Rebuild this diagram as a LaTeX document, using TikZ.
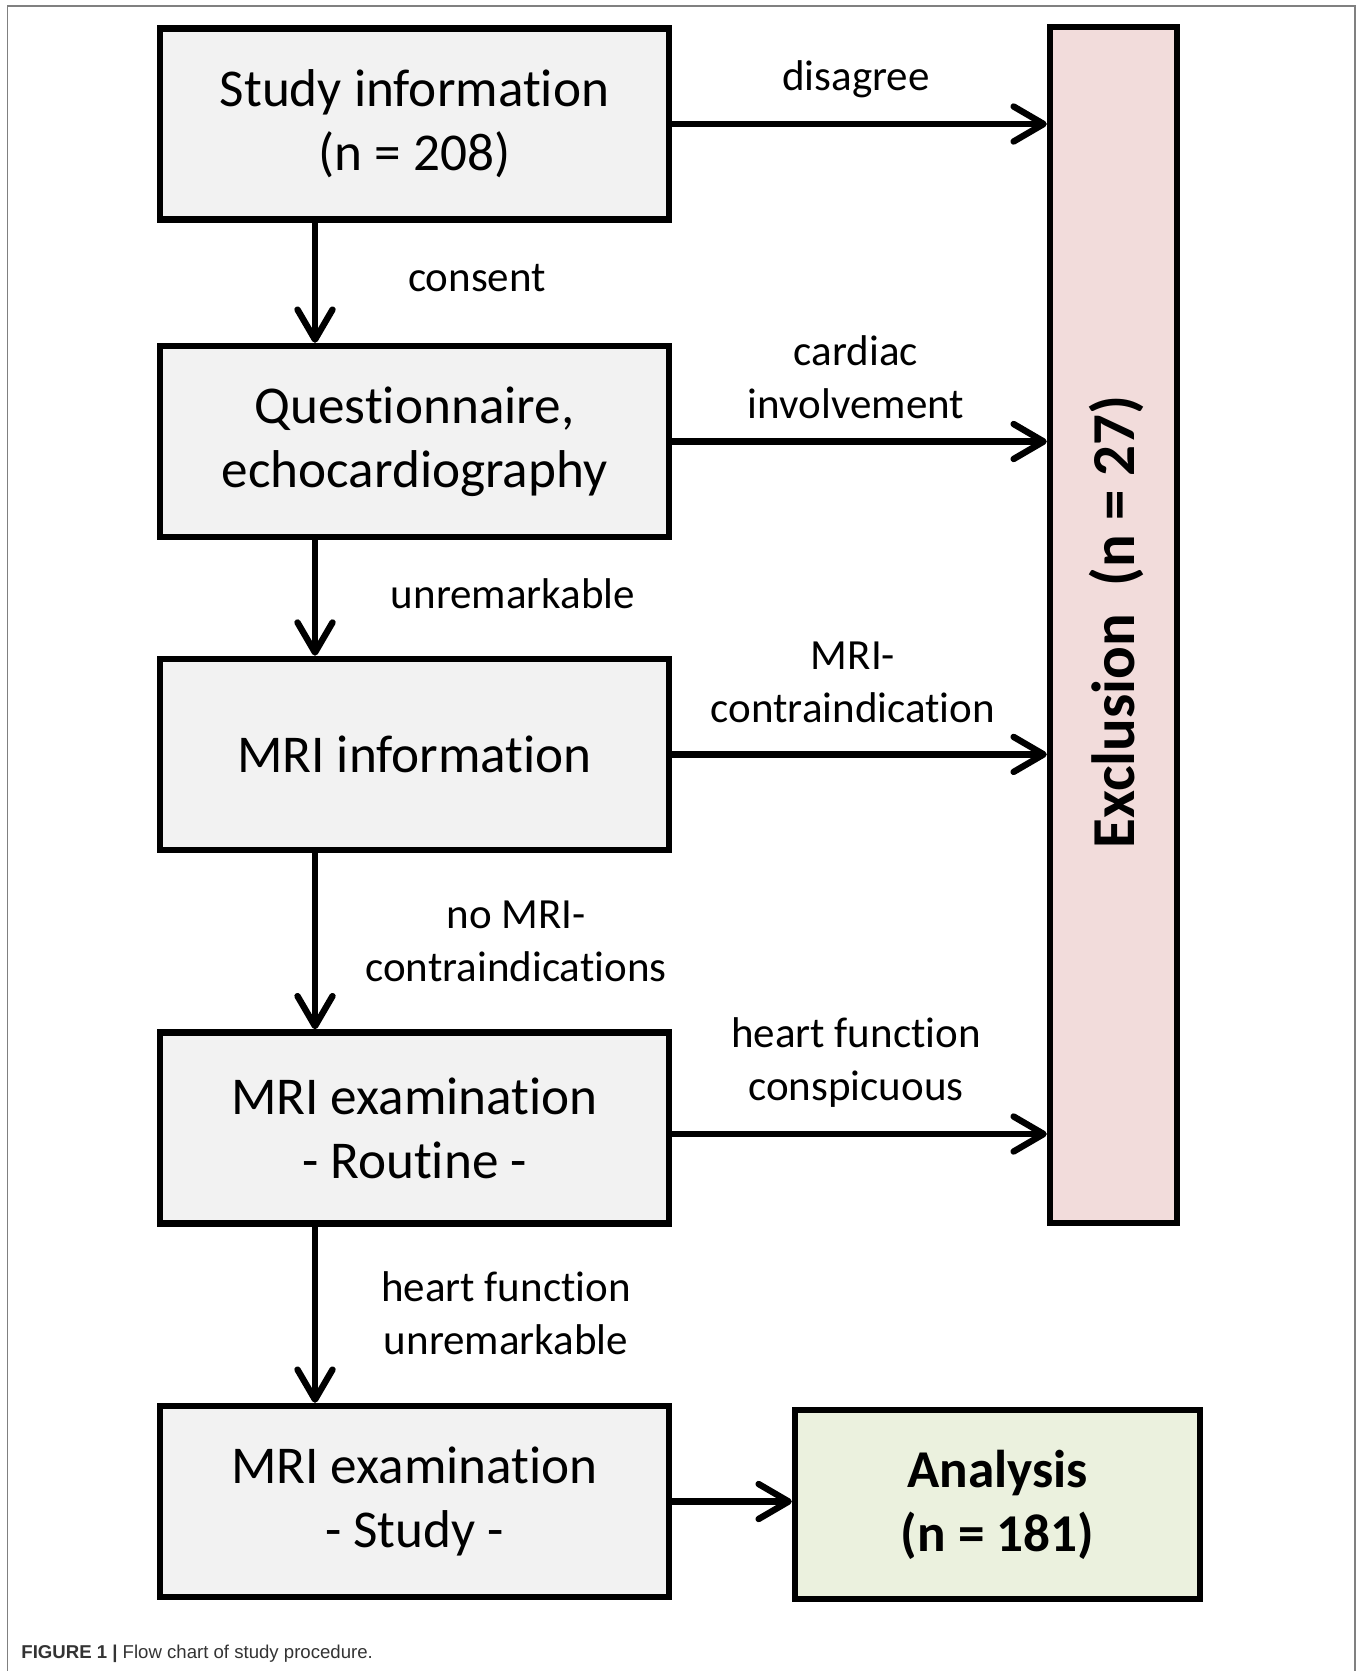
\documentclass[tikz,border=0pt]{standalone}
\usepackage{fontspec}
\setmainfont[RawFeature={-liga;-clig;-calt;-dlig}]{Carlito}
\newfontfamily\capfont{Liberation Sans}
\usepackage{tikz}
\usetikzlibrary{calc,arrows.meta}

\definecolor{boxgray}{HTML}{F2F2F2}
\definecolor{exclred}{HTML}{F2DCDB}
\definecolor{resgreen}{HTML}{EBF1DE}
\definecolor{framegray}{HTML}{808080}
\definecolor{capgray}{HTML}{333333}

\tikzset{
  box/.style={draw, line width=3.2pt, fill=boxgray, inner sep=0pt,
    minimum width=254.5pt, minimum height=95.5pt, align=center,
    font=\fontsize{26.6}{32}\selectfont},
  exclbox/.style={box, fill=exclred, minimum width=63.5pt, minimum height=598pt},
  resultbox/.style={box, fill=resgreen, minimum width=202.5pt, minimum height=94.5pt,
    font=\fontsize{26.6}{32}\selectfont\bfseries},
  lbl/.style={align=center, inner sep=0pt, font=\fontsize{21.5}{26.5}\selectfont},
  flow/.style={line width=3.2pt, -{Straight Barb[length=15pt,width=17.5pt,round]}}
}

\begin{document}
\begin{tikzpicture}[x=0.5pt,y=-0.5pt]
  \useasboundingbox (0,0) rectangle (1362,1671);
  % frame
  \draw[framegray, line width=0.8pt] (7.5,1671) -- (7.5,6) -- (1355,6) -- (1355,1671);

  % boxes
  \node[box] (study) at (414.5,124) {Study information\\(n = 208)};
  \node[box] (quest) at (414.5,441.5) {Questionnaire,\\echocardiography};
  \node[box] (mriinfo) at (414.5,754.4) {MRI information};
  \node[box] (routine) at (414.5,1128) {MRI examination\\- Routine -};
  \node[box] (mristudy) at (414.5,1501.5) {MRI examination\\- Study -};
  \node[exclbox] (excl) at (1113.5,625) {};
  \node[rotate=90, font=\fontsize{30.5}{36}\selectfont\bfseries] (excltext) at (1116,622) {Exclusion\ \ (n = 27)};
  \node[resultbox] (analysis) at (997.5,1504.5) {Analysis\\(n = 181)};
  \coordinate (vaxis) at (315,0);

  % arrows down
  \draw[flow] (study.south -| vaxis) -- (quest.north -| vaxis);
  \draw[flow] (quest.south -| vaxis) -- (mriinfo.north -| vaxis);
  \draw[flow] (mriinfo.south -| vaxis) -- (routine.north -| vaxis);
  \draw[flow] (routine.south -| vaxis) -- (mristudy.north -| vaxis);

  % arrows right
  \draw[flow] (study.east) -- (study.east -| excl.west);
  \draw[flow] (quest.east) -- (quest.east -| excl.west);
  \draw[flow] (mriinfo.east) -- (mriinfo.east -| excl.west);
  \draw[flow] ($(routine.east)+(0,6)$) -- ($(routine.east -| excl.west)+(0,6)$);
  \draw[flow] (mristudy.east) -- (mristudy.east -| analysis.west);

  % labels
  \node[lbl] (l1) at (856,79) {disagree};
  \node[lbl] (l2) at (477,278) {consent};
  \node[lbl] (l3) at (856,377.5) {cardiac\\involvement};
  \node[lbl] (l4) at (513,594) {unremarkable};
  \node[lbl] (l5) at (853,682) {MRI-\\contraindication};
  \node[lbl] (l6) at (516,941) {no MRI-\\contraindications};
  \node[lbl] (l7) at (856,1063) {heart function\\conspicuous};
  \node[lbl] (l8) at (506,1313) {heart function\\unremarkable};

  % caption
  \node[anchor=west, inner sep=0pt, text=capgray, font=\capfont\fontsize{9.3}{11}\selectfont] (caption) at (21,1654) {\textbf{FIGURE 1 |} Flow chart of study procedure.};
\end{tikzpicture}
\end{document}
